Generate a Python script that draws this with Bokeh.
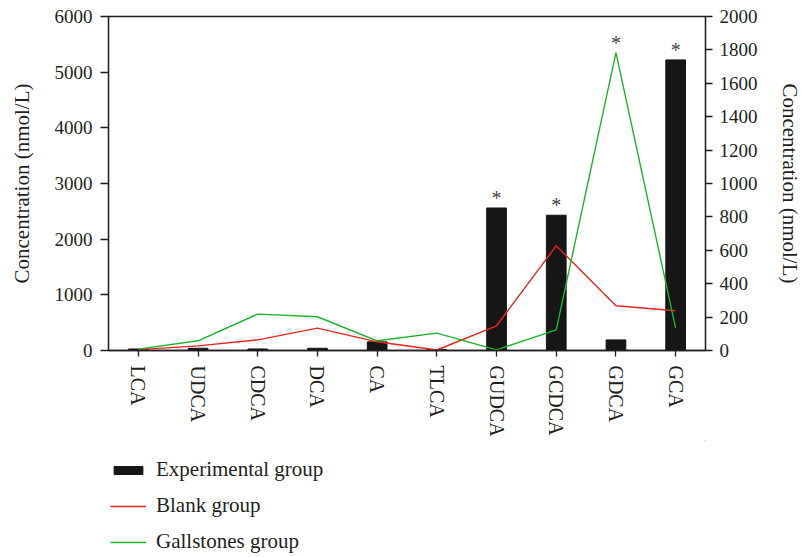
from bokeh.plotting import figure
from bokeh.layouts import column
from bokeh.models import (Range1d, FactorRange, LinearAxis, Legend, LegendItem,
                          SingleIntervalTicker, ColumnDataSource)
from bokeh.core.properties import value
from bokeh.embed import file_html
from bokeh.resources import INLINE

categories = ["LCA", "UDCA", "CDCA", "DCA", "CA", "TLCA", "GUDCA", "GCDCA", "GDCA", "GCA"]
experimental = [27, 40, 27, 40, 155, 15, 2560, 2430, 190, 5220]
blank = [5, 28, 64, 134, 52, 3, 148, 627, 268, 238]
gallstones = [8, 58, 218, 202, 58, 104, 4, 124, 1784, 134]
starred = ["GUDCA", "GCDCA", "GDCA", "GCA"]
series_names = ["Experimental group", "Blank group", "Gallstones group"]
left_max, right_max = 6000, 2000

FONT = "Liberation Serif"
TXT = "#231f20"
RED = "#e5261f"
GREEN = "#1fb22e"
BAR = "#161616"

p = figure(width=804, height=440, x_range=FactorRange(*categories),
           y_range=Range1d(0, left_max), output_backend="svg", toolbar_location=None,
           min_border_left=108, min_border_right=92, min_border_top=16, min_border_bottom=90)
p.extra_y_ranges = {"right": Range1d(0, right_max)}
p.xgrid.visible = False
p.ygrid.visible = False
p.outline_line_color = TXT
p.outline_line_width = 1.3

src = ColumnDataSource(dict(x=categories, exp=experimental, blank=blank, gall=gallstones))
p.vbar(x="x", top="exp", width=0.33, source=src, fill_color=BAR, line_color=BAR)
p.line(x="x", y="blank", source=src, line_color=RED, line_width=1.4, y_range_name="right")
p.line(x="x", y="gall", source=src, line_color=GREEN, line_width=1.4, y_range_name="right")

ratio = left_max / right_max
star_y = [max(experimental[categories.index(c)], ratio * gallstones[categories.index(c)],
              ratio * blank[categories.index(c)]) for c in starred]
p.text(x=starred, y=star_y, text=["*"] * len(starred), text_font=value(FONT),
       text_font_size="20px", text_color="#444444", text_align="center",
       text_baseline="middle", y_offset=-10)

def style(ax, size="19px"):
    ax.axis_line_color = TXT
    ax.axis_line_width = 1.3
    ax.major_tick_line_color = TXT
    ax.major_tick_line_width = 1.3
    ax.major_tick_in = 0
    ax.major_tick_out = 8
    ax.minor_tick_line_color = None
    ax.major_label_text_font = FONT
    ax.major_label_text_font_size = size
    ax.major_label_text_color = TXT
    ax.major_label_standoff = 8
    ax.axis_label_text_font = FONT
    ax.axis_label_text_font_size = "21px"
    ax.axis_label_text_font_style = "normal"
    ax.axis_label_text_color = TXT

ly = p.yaxis[0]
ly.ticker = SingleIntervalTicker(interval=1000)
ly.axis_label = "Concentration (nmol/L)"
style(ly)
ly.axis_label_standoff = 18

ry = LinearAxis(y_range_name="right", ticker=SingleIntervalTicker(interval=200),
                axis_label="Concentration (nmol/L)")
style(ry)
ry.major_tick_out = 7
ry.major_label_standoff = 7
ry.axis_label_standoff = 17
p.add_layout(ry, "right")

xa = p.xaxis[0]
style(xa, "20px")
xa.major_tick_out = 6
xa.major_label_orientation = "vertical"
xa.major_label_standoff = 9

# legend panel below the chart
q = figure(width=804, height=117, x_range=Range1d(0, 1), y_range=Range1d(0, 1),
           output_backend="svg", toolbar_location=None, x_axis_location=None,
           y_axis_location=None,
           min_border_left=0, min_border_right=0, min_border_top=0, min_border_bottom=0)
q.grid.visible = False
q.outline_line_color = None
rb = q.vbar(x=[5], top=[5], bottom=[4], width=0.33, fill_color=BAR, line_color=BAR)
rr = q.line(x=[5, 6], y=[5, 5], line_color=RED, line_width=1.4)
rg = q.line(x=[5, 6], y=[5, 5], line_color=GREEN, line_width=1.4)
legend = Legend(items=[LegendItem(label=series_names[0], renderers=[rb]),
                       LegendItem(label=series_names[1], renderers=[rr]),
                       LegendItem(label=series_names[2], renderers=[rg])],
                location=(2, 3), orientation="vertical",
                glyph_width=36, glyph_height=10, label_height=21, spacing=11,
                label_standoff=10, padding=0, margin=0,
                border_line_color=None, background_fill_alpha=0,
                label_text_font=FONT, label_text_font_size="21px", label_text_color=TXT)
q.add_layout(legend, "center")

open("out.html", "w").write(file_html(column(p, q, spacing=0), INLINE))
